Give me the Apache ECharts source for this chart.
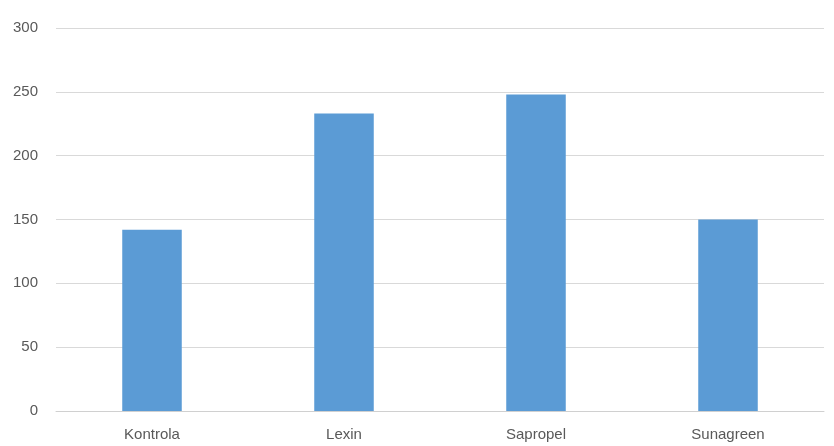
<!DOCTYPE html>
<html>
<head>
<meta charset="utf-8">
<script src="https://cdn.jsdelivr.net/npm/echarts@6/dist/echarts.min.js"></script>
<style>
	html, body { margin: 0; padding: 0; background: #fff; }
	#chart { width: 834px; height: 446px; }
</style>
</head>
<body>
<div id="chart"></div>
<script>
var categories = ['Kontrola', 'Lexin', 'Sapropel', 'Sunagreen'];
var values = [142, 233, 248, 150];

var chart = echarts.init(document.getElementById('chart'));
var option = {
	animation: false,
	grid: {
		left: 56,
		right: 10,
		top: 28,
		bottom: 35
	},
	xAxis: {
		type: 'category',
		data: categories,
		axisTick: { show: false },
		axisLine: { lineStyle: { color: '#d0d0d0', width: 1 } },
		axisLabel: {
			color: '#595959',
			fontFamily: 'Liberation Sans',
			fontSize: 15,
			margin: 16
		}
	},
	yAxis: {
		type: 'value',
		min: 0,
		max: 300,
		interval: 50,
		axisLine: { show: false },
		axisTick: { show: false },
		splitLine: { lineStyle: { color: '#d9d9d9', width: 1 } },
		axisLabel: {
			color: '#595959',
			fontFamily: 'Liberation Sans',
			fontSize: 15,
			margin: 18
		}
	},
	series: [{
		type: 'bar',
		data: values,
		barWidth: '31%',
		itemStyle: { color: '#5b9bd5' }
	}]
};
chart.setOption(option);
window.onresize = function() {
	chart.resize();
};
</script>
</body>
</html>
